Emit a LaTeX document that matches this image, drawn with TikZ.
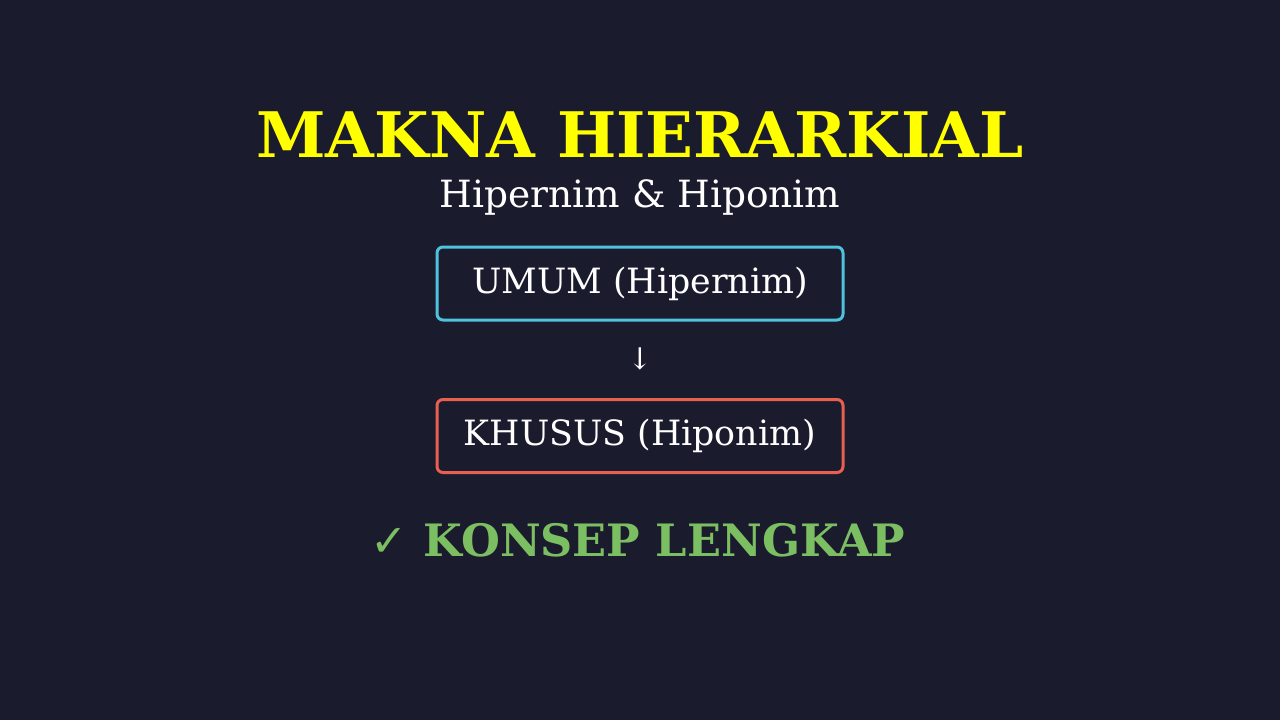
\documentclass[tikz,border=0pt]{standalone}
\usepackage{fontspec}
\setmainfont{DejaVu Serif}
\newfontfamily\symfont{DejaVu Sans}
\definecolor{bg}{HTML}{1B1B2E}
\definecolor{ttl}{HTML}{FFFF00}
\definecolor{cyanb}{HTML}{4EC3DE}
\definecolor{redb}{HTML}{E8604F}
\definecolor{grn}{HTML}{7CBF62}
\tikzset{
  box/.style={draw, line width=3pt, rounded corners=6pt, minimum width=406pt, minimum height=73pt, inner sep=0pt, text=white, font=\fontsize{34.8}{40}\selectfont},
}
\begin{document}
\begin{tikzpicture}[x=1pt,y=-1pt]
\fill[bg] (0,0) rectangle (1280,720);
\useasboundingbox (0,0) rectangle (1280,720);
\node[text=ttl, font=\fontsize{62.8}{70}\selectfont\bfseries] (title) at (640,135) {MAKNA HIERARKIAL};
\node[text=white, font=\fontsize{37.5}{44}\selectfont] (sub) at (640,197.5) {Hipernim \& Hiponim};
\node[box, draw=cyanb] (umum) at (640,283.5) {UMUM (Hipernim)};
\node[text=white, font=\fontsize{30}{34}\selectfont] (arr) at (640,359) {↓};
\node[box, draw=redb] (khusus) at (640,436) {KHUSUS (Hiponim)};
\node[text=grn, font=\fontsize{44.6}{52}\selectfont\bfseries] (ok) at (638,540) {{\symfont\mdseries ✓} KONSEP LENGKAP};
\end{tikzpicture}
\end{document}
